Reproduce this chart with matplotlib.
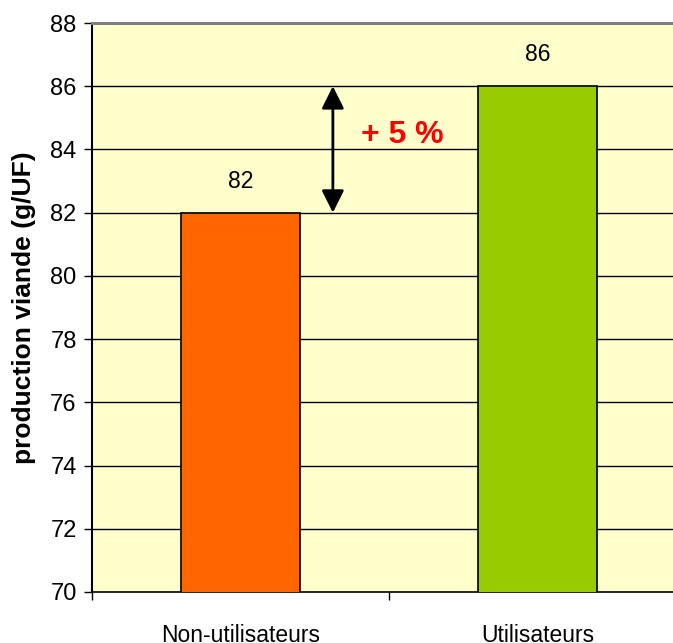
import matplotlib
matplotlib.use("Agg")
import matplotlib.pyplot as plt

categories = ["Non-utilisateurs", "Utilisateurs"]
values = [82, 86]
bar_colors = ["#FF6600", "#99CC00"]
y_ticks = [70, 72, 74, 76, 78, 80, 82, 84, 86, 88]
gain_label = "+ 5 %"

plt.rcParams["font.family"] = ["Liberation Sans", "DejaVu Sans"]

fig = plt.figure(figsize=(6.73, 6.43), dpi=100)
ax = fig.add_axes([92 / 673, 1 - 592 / 643, 594 / 673, (592 - 23) / 643])
ax.set_facecolor("#FFFFCC")

x = list(range(len(categories)))
ax.bar(x, values, width=0.404, bottom=0, color=bar_colors,
       edgecolor="black", linewidth=1.2, zorder=3)
ax.set_xlim(-0.5, 1.5)
ax.set_ylim(70, 88)

for yv in y_ticks[1:-1]:
    ax.axhline(yv, color="black", linewidth=1.0, zorder=1)

for xi, v in zip(x, values):
    ax.text(xi, v + 1.0, f"{v}", ha="center", va="center", fontsize=16.5)

ax.set_yticks(y_ticks)
ax.set_yticklabels([str(t) for t in y_ticks], fontsize=17)
ax.set_xticks([-0.5, 0.5, 1.5])
ax.set_xticklabels([])
ax.set_xticks(x, minor=True)
ax.set_xticklabels(categories, minor=True, fontsize=16.5)
ax.tick_params(axis="x", which="minor", length=0, pad=23)
ax.tick_params(axis="x", which="major", length=6, width=1, direction="out")
ax.tick_params(axis="y", length=6, width=1, direction="out", pad=5)

ax.spines["left"].set_color("black")
ax.spines["left"].set_linewidth(1.5)
ax.spines["bottom"].set_color("black")
ax.spines["bottom"].set_linewidth(1.2)
ax.spines["top"].set_color("#808080")
ax.spines["top"].set_linewidth(2.2)
ax.spines["right"].set_visible(False)

ax.set_ylabel("production viande (g/UF)", fontsize=19, fontweight="bold",
              labelpad=10)

ax.annotate("", xy=(0.311, values[0]), xytext=(0.311, values[1]),
            arrowprops=dict(arrowstyle="<|-|>", color="black", lw=2,
                            mutation_scale=34, shrinkA=0, shrinkB=0),
            zorder=4)
ax.text(0.544, 84.45, gain_label, color="#FF0000", fontsize=23, fontweight="bold",
        ha="center", va="center")

fig.savefig("out.png", dpi=100)
